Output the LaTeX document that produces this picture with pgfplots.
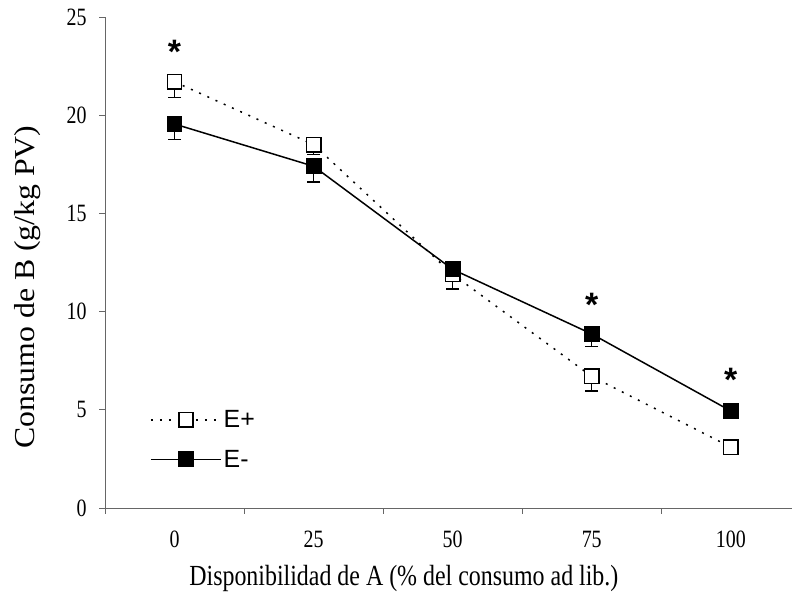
\documentclass[border=0pt]{standalone}
\usepackage{pgfplots}
\pgfplotsset{compat=1.18}
\usepackage{fontspec}
\setmainfont{Liberation Serif}
\newfontfamily\arial{Liberation Sans}
\begin{document}
\begin{tikzpicture}
\begin{axis}[
  scale only axis,
  width=687bp, height=491bp,
  xmin=-0.5, xmax=4.44,
  ymin=0, ymax=25,
  axis lines=left,
  axis line style={-, draw=black!60, line width=0.9bp},
  xtick={0,1,2,3,4},
  xticklabels={0,25,50,75,100},
  minor xtick={-0.5,0.5,1.5,2.5,3.5},
  major x tick style={draw=none},
  minor tick length=6bp,
  minor x tick style={draw=black!60, line width=0.9bp},
  ytick={0,5,10,15,20,25},
  y tick style={draw=black!60, line width=0.9bp},
  major tick length=6bp,
  tick align=outside,
  /pgf/number format/assume math mode=true,
  tick label style={font=\fontsize{20}{22}\selectfont, black, yscale=1.25},
  xticklabel style={yshift=-10bp},
  yticklabel style={xshift=-9bp},
  xlabel={Disponibilidad de A (\% del consumo ad lib.)},
  xlabel style={at={(rel axis cs:0.435,-0.1426)}, anchor=center, font=\fontsize{24}{26}\selectfont, yscale=1.22},
  ylabel={\scalebox{1.1}[1]{Consumo de B (g/kg PV)}},
  ylabel style={at={(rel axis cs:-0.112,0.45)}, anchor=center, font=\fontsize{29}{31}\selectfont},
  legend style={draw=none, fill=none, at={(rel axis cs:0.0655,0.203)}, anchor=north west,
    font=\arial\fontsize{25}{27}\selectfont, row sep=17bp, inner sep=0pt,
    /tikz/every even column/.append style={column sep=6bp}},
  legend cell align=left,
  legend image code/.code={%
    \draw[mark repeat=2, mark phase=2] plot coordinates {(0bp,0bp) (35bp,0bp) (70bp,0bp)};},
  clip=false,
]
\coordinate (bl) at (rel axis cs:-0.15284,-0.18737);
\coordinate (tr) at (rel axis cs:1,1.03462);

\addplot[black, line width=1.5bp, dash pattern=on 2bp off 7bp,
  mark=square*, mark size=7.2bp,
  mark options={solid, fill=white, draw=black, line width=1.5bp},
  error bars/.cd, y dir=minus, y explicit,
  error bar style={solid, line width=1.5bp, black},
  error mark options={rotate=90, mark size=6.5bp, line width=1.5bp, black, solid}]
  coordinates {
  (0,21.7) -= (0,0.8)
  (1,18.5) -= (0,0.5)
  (2,11.9) -= (0,0.75)
  (3,6.7) -= (0,0.75)
  (4,3.1) -= (0,0.3)
  };
\addlegendentry{E+}

\addplot[black, line width=1.5bp, solid,
  mark=square*, mark size=7.2bp,
  mark options={solid, fill=black, draw=black, line width=1.5bp},
  error bars/.cd, y dir=minus, y explicit,
  error bar style={solid, line width=1.5bp, black},
  error mark options={rotate=90, mark size=6.5bp, line width=1.5bp, black, solid}]
  coordinates {
  (0,19.55) -= (0,0.8)
  (1,17.4) -= (0,0.8)
  (2,12.15) -= (0,0.5)
  (3,8.86) -= (0,0.65)
  (4,4.94) -= (0,0.3)
  };
\addlegendentry{E-}

\addplot[draw=none, mark=none, forget plot,
  nodes near coords={\arial\bfseries\fontsize{34}{34}\selectfont *},
  nodes near coords align={center},
  every node near coord/.append style={anchor=center, inner sep=0pt}]
  coordinates {(0,23.25) (3,10.35) (4,6.55)};
\end{axis}
\pgfresetboundingbox
\useasboundingbox (bl) rectangle (tr);
\end{tikzpicture}
\end{document}
